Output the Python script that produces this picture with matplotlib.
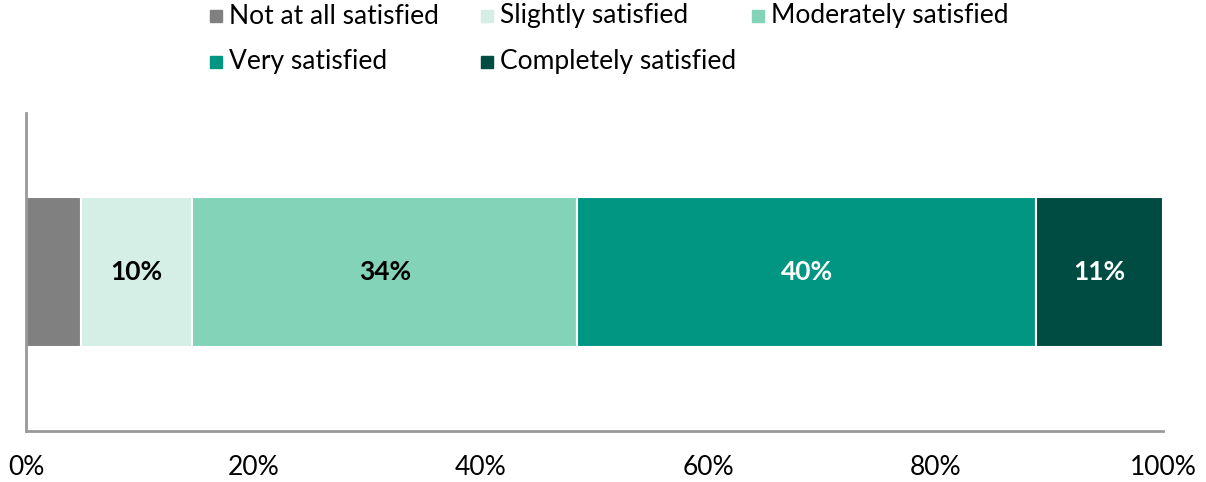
import matplotlib.pyplot as plt
from matplotlib.patches import Rectangle

plt.rcParams['font.family'] = ['Lato', 'DejaVu Sans']

categories = ["Not at all satisfied", "Slightly satisfied", "Moderately satisfied",
              "Very satisfied", "Completely satisfied"]
values = [4.8, 9.8, 33.9, 40.3, 11.2]
labels = ["", "10%", "34%", "40%", "11%"]
colors = ["#808080", "#d5efe6", "#83d3b9", "#009681", "#004c42"]
label_colors = ["black", "black", "black", "white", "white"]

W, H = 1206, 482
fig = plt.figure(figsize=(W / 100, H / 100), dpi=100)
ax = fig.add_axes([26 / W, 51 / H, 1137 / W, 318 / H])

left = 0
for cat, v, lab, c, lc in zip(categories, values, labels, colors, label_colors):
    ax.barh(0, v, left=left, height=0.472, color=c, edgecolor="white", linewidth=1.5)
    if lab:
        ax.text(left + v / 2, 0, lab, ha="center", va="center", fontsize=19,
                fontweight="bold", color=lc)
    left += v

ax.set_xlim(0, 100)
ax.set_ylim(-0.5, 0.5)
ax.set_yticks([])
ax.set_xticks([0, 20, 40, 60, 80, 100])
ax.set_xticklabels(["0%", "20%", "40%", "60%", "80%", "100%"], fontsize=19)
ax.tick_params(axis="x", length=0, pad=17)
for s in ["top", "right"]:
    ax.spines[s].set_visible(False)
for s in ["left", "bottom"]:
    ax.spines[s].set_color("#999999")
    ax.spines[s].set_linewidth(2)

# legend: fixed-width columns, row-major
for i, (cat, c) in enumerate(zip(categories, colors)):
    col, row = i % 3, i // 3
    x = 210 + col * 271
    y = 16 + row * 46
    fig.add_artist(Rectangle((x / W, (H - y - 6) / H), 12 / W, 12 / H,
                             transform=fig.transFigure, color=c))
    fig.text((x + 19) / W, (H - y) / H, cat, fontsize=19, va="center", ha="left")

fig.savefig("out.png", dpi=100)
